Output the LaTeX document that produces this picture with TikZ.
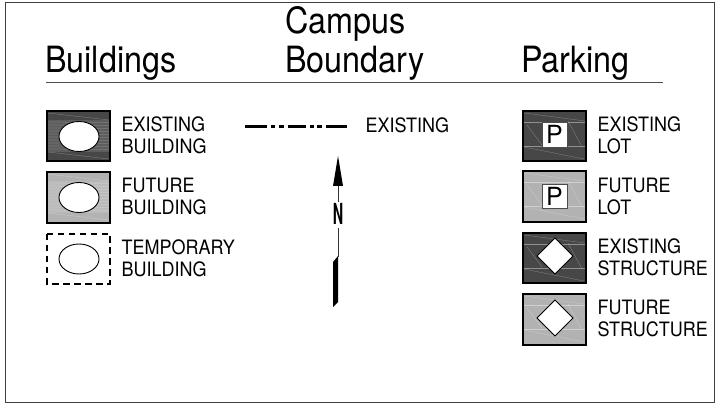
\documentclass[tikz,border=0pt]{standalone}
\usepackage{fontspec}
\setmainfont{TeX Gyre Heros}
\definecolor{darkfill}{gray}{0.28}
\definecolor{lightfill}{gray}{0.70}
\newcommand{\tallhead}[1]{\scalebox{1}[1.12]{#1}}
\newcommand{\talllab}[1]{\scalebox{1}[1.1]{#1}}
\tikzset{
  px/.style={x=1pt,y=-1pt},
  head/.style={font=\fontsize{32.3}{32}\selectfont,anchor=base west,inner sep=0pt},
  lab/.style={font=\fontsize{18}{22}\selectfont,anchor=base west,inner sep=0pt},
  swdark/.style={draw=black,line width=1.6pt,fill=darkfill},
  swlight/.style={draw=black,line width=1.6pt,fill=lightfill},
  swtemp/.style={draw=black,line width=1.6pt,dash pattern=on 6.5pt off 4.5pt},
  hole/.style={draw=black,line width=0.9pt,fill=white},
  tex/.style={draw=white,line width=0.25pt,opacity=0.4},
  bound/.style={line width=3pt,dash pattern=on 22pt off 4pt on 4pt off 3.5pt on 5pt off 4pt on 18pt off 4pt on 4pt off 3.5pt on 5pt off 4pt}
}
\newcommand{\bldtex}[1]{%
  \fill[white,opacity=0.12] (48,#1+9) rectangle (109,#1+41);
  \foreach \yy in {11,14,17,20,23,26,29,32,35,38}{\draw[tex] (48,#1+\yy) -- (109,#1+\yy+0.5);}
  \draw[tex] (48,#1+2) -- (109,#1+9);
  \draw[tex] (48,#1+41) -- (109,#1+48);
}
\newcommand{\lottex}[1]{%
  \draw[tex] (524,#1+2) -- (585,#1+10);
  \draw[tex] (524,#1+11) -- (585,#1+11);
  \draw[tex] (524,#1+35) -- (585,#1+35);
  \draw[tex] (524,#1+36) -- (584,#1+48);
  \draw[tex] (527,#1+14) -- (542,#1+34);
  \draw[tex] (568,#1+10) -- (582,#1+36);
}
\newcommand{\lab}[4]{%
  \node[lab] (#1a) at (#2,#3) {\talllab{#4}};
}
\begin{document}
\begin{tikzpicture}[px]
\useasboundingbox (0,0) rectangle (715,403);
\draw[line width=0.8pt,black!75] (5.5,2.5) rectangle (714,402);
% headings
\node[head] (h1) at (45,73) {\tallhead{Buildings}};
\node[head] (h2a) at (285,34) {\tallhead{Campus}};
\node[head] (h2b) at (285,73) {\tallhead{Boundary}};
\node[head] (h3) at (521,73) {\tallhead{Parking}};
\draw[line width=1pt,black!70] (46,83) -- (663,83);
% buildings
\draw[swdark] (47,111) rectangle (110,161);
\bldtex{111}
\draw[hole] (79,136.5) ellipse (20 and 15);
\draw[swlight] (47,172) rectangle (110,223);
\bldtex{172}
\draw[hole] (79,197.5) ellipse (20 and 15);
\draw[swtemp] (47,234) rectangle (110,284);
\draw[black,line width=0.9pt] (79,259) ellipse (20 and 15);
\lab{b1}{121.5}{132}{EXISTING}
\lab{b1b}{121.5}{154}{BUILDING}
\lab{b2}{121.5}{193}{FUTURE}
\lab{b2b}{121.5}{215}{BUILDING}
\lab{b3}{121.5}{255}{TEMPORARY}
\lab{b3b}{121.5}{277}{BUILDING}
% boundary
\draw[bound] (245,127) -- (347,127);
\lab{b4}{365.5}{133}{EXISTING}
% north arrow
\draw[line width=0.7pt,black!80] (338,186) -- (338,202);
\draw[line width=0.7pt,black!80] (338,228) -- (338,257);
\fill (338,156) -- (343,186) -- (333,186) -- cycle;
\fill (338,256) -- (333,262) -- (333,307) -- (338,302) -- cycle;
\node[font=\fontsize{20}{20}\bfseries\selectfont,inner sep=0pt] (north) at (338,214) {\scalebox{0.72}[1.45]{N}};
% parking
\draw[swdark] (523,111) rectangle (586,161);
\lottex{111}
\draw[hole,draw=black!70] (542,122) rectangle (567,147);
\node[font=\fontsize{25}{25}\selectfont,inner sep=0pt] (p1) at (554.5,134.5) {P};
\draw[swlight] (523,171) rectangle (586,222);
\lottex{171}
\draw[hole,draw=black!70] (542,184) rectangle (567,208);
\node[font=\fontsize{25}{25}\selectfont,inner sep=0pt] (p2) at (554.5,196) {P};
\draw[swdark] (523,233) rectangle (586,283);
\lottex{233}
\draw[hole] (555,238) -- (573,256) -- (555,274) -- (537,256) -- cycle;
\draw[swlight] (523,294) rectangle (586,345);
\lottex{294}
\draw[hole] (555,300) -- (573,318) -- (555,336) -- (537,318) -- cycle;
\lab{q1}{597.5}{132}{EXISTING}
\lab{q1b}{597.5}{154}{LOT}
\lab{q2}{597.5}{193}{FUTURE}
\lab{q2b}{597.5}{215}{LOT}
\lab{q3}{597.5}{254}{EXISTING}
\lab{q3b}{597.5}{276}{STRUCTURE}
\lab{q4}{597.5}{315}{FUTURE}
\lab{q4b}{597.5}{337}{STRUCTURE}
\end{tikzpicture}
\end{document}
